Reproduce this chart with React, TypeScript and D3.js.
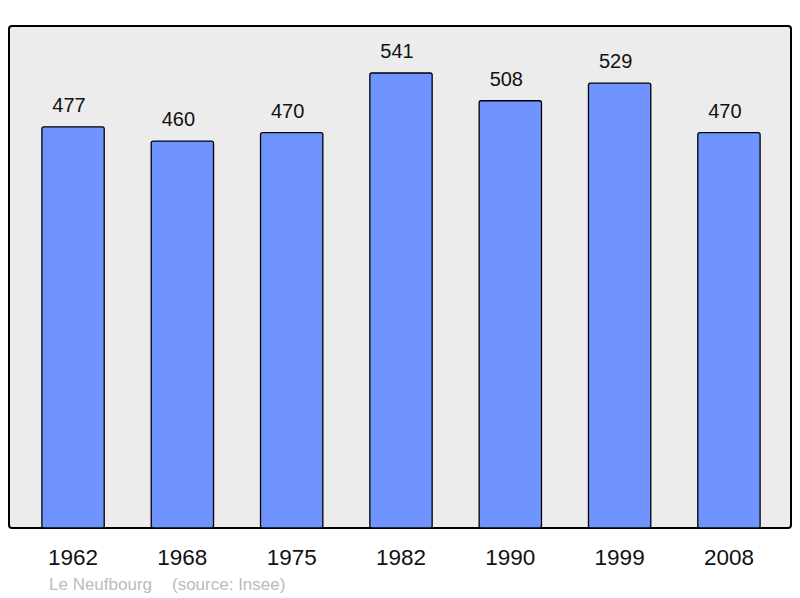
import React from 'react'
import * as d3 from 'd3'

const years = ['1962', '1968', '1975', '1982', '1990', '1999', '2008']
const population = [477, 460, 470, 541, 508, 529, 470]
const place = 'Le Neufbourg'
const source = '(source: Insee)'

const width = 800
const height = 598
const panel = { left: 9, top: 26, right: 791, bottom: 528 }

export default function App() {
  const xScale = d3.scaleBand()
    .domain(years)
    .range([18.4, 783.6])
    .paddingInner(0.43)
    .paddingOuter(0.215)

  const yScale = d3.scaleLinear()
    .domain([0, d3.max(population) as number])
    .range([panel.bottom, 73])

  const font = '"Liberation Sans", Arial, sans-serif'

  return (
    <svg width={width} height={height}
      style={{ position: 'absolute', left: 0, top: 0, fontFamily: font }}>
      <rect x={panel.left} y={panel.top}
        width={panel.right - panel.left} height={panel.bottom - panel.top}
        rx={3} fill="#ececec" stroke="black" strokeWidth={2} />
      {
        years.map((yr, i) => (
          <g key={yr}>
            <rect
              x={xScale(yr)}
              y={yScale(population[i])}
              width={xScale.bandwidth()}
              height={panel.bottom - yScale(population[i])}
              rx={2}
              fill="#7094ff"
              stroke="black"
              strokeWidth={1.3}
            />
            <text
              x={(xScale(yr) as number) + xScale.bandwidth() / 2 - 4}
              y={yScale(population[i]) - 15}
              textAnchor="middle"
              fontSize={20}
              fill="#111"
            >{population[i]}</text>
            <text
              x={(xScale(yr) as number) + xScale.bandwidth() / 2}
              y={565}
              textAnchor="middle"
              fontSize={22.5}
              fill="#111"
            >{yr}</text>
          </g>
        ))
      }
      <text x={49} y={590} fontSize={17} fill="#bbbbbb">{place}</text>
      <text x={172} y={590} fontSize={17} fill="#bbbbbb">{source}</text>
    </svg>
  )
}
